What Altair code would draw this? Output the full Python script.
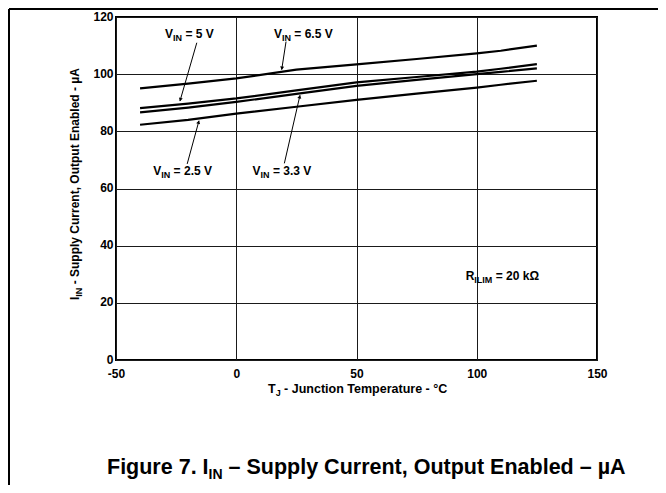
import math
import altair as alt
import pandas as pd

# ---------------- data ----------------
temps = [-40, -20, 0, 25, 50, 75, 100, 110, 125]
i_vin_65 = [95.0, 96.7, 98.5, 101.6, 103.4, 105.3, 107.3, 108.2, 110.0]
i_vin_5 = [88.1, 89.7, 91.5, 94.3, 97.1, 99.0, 100.9, 101.9, 103.5]
i_vin_33 = [86.6, 88.3, 90.3, 93.1, 95.9, 98.0, 100.0, 100.8, 102.0]
i_vin_25 = [82.3, 84.0, 86.2, 88.6, 91.0, 93.2, 95.3, 96.3, 97.7]
series_names = ["6.5 V", "5 V", "3.3 V", "2.5 V"]
series_values = [i_vin_65, i_vin_5, i_vin_33, i_vin_25]

x_ticks = [-50, 0, 50, 100, 150]
y_ticks = [0, 20, 40, 60, 80, 100, 120]

# annotation labels: (anchor T, anchor I, lead, subscript, rest)
label_T = [-29.6, 15.7, -34.5, 6.8, 95.4]
label_I = [112.8, 112.8, 64.8, 64.8, 28.0]
label_lead = ["V", "V", "V", "V", "R"]
label_sub = ["IN", "IN", "IN", "IN", "ILIM"]
label_rest = ["= 5 V", "= 6.5 V", "= 2.5 V", "= 3.3 V", "= 20 kΩ"]

# arrows: from label (T, I) to curve tip (T2, I2)
arrow_T = [-16.4, 20.7, -20.4, 20.0]
arrow_I = [111.0, 111.4, 68.6, 68.8]
arrow_T2 = [-23.4, 18.9, -15.5, 26.5]
arrow_I2 = [90.6, 101.6, 83.7, 92.6]

# ---------------- layout / style ----------------
W, H = 481, 343
PAD = {"left": 108, "top": 9, "right": 61, "bottom": 125}
FONT = "Liberation Sans"
PX_T = W / 200.0
PX_I = H / 120.0

# Arial/Liberation Sans Bold advance widths (per 1000 em)
ADV = {" ": 278, ".": 278, "7": 556, "F": 611, "I": 278, "J": 556, "L": 611,
       "M": 833, "N": 722, "R": 722, "T": 611, "V": 667, "e": 556, "g": 611,
       "i": 278, "r": 389, "u": 611}


def tw(s, size):
    return sum(ADV.get(c, 556) for c in s) * size / 1000.0


rows = []
for name, vals in zip(series_names, series_values):
    for t, v in zip(temps, vals):
        rows.append({"T": t, "I": v, "V": name})
df = pd.DataFrame(rows)

xs = alt.Scale(domain=[-50, 150], nice=False, zero=False)
ys = alt.Scale(domain=[0, 120], nice=False, zero=False)

x_axis = alt.Axis(values=x_ticks, title=None, grid=True, gridColor="#1a1a1a",
                  gridWidth=1, domain=False, ticks=False, labelFont=FONT,
                  labelFontSize=12, labelFontWeight="bold", labelColor="black",
                  labelPadding=8, labelFlush=False, labelOverlap=False,
                  labelBound=False, labelExpr="'' + datum.value")
y_axis = alt.Axis(values=y_ticks, title=None, grid=True, gridColor="#1a1a1a",
                  gridWidth=1, domain=False, ticks=False, labelFont=FONT,
                  labelFontSize=12, labelFontWeight="bold", labelColor="black",
                  labelPadding=3, labelOffset=-1, labelFlush=False,
                  labelOverlap=False, labelBound=False,
                  labelExpr="'' + datum.value")


def X(field="T"):
    return alt.X(f"{field}:Q", scale=xs, axis=x_axis)


def Y(field="I"):
    return alt.Y(f"{field}:Q", scale=ys, axis=y_axis)


lines = alt.Chart(df).mark_line(color="black", strokeWidth=2.2).encode(
    x=X(), y=Y(), detail="V:N",
)

layers = [lines]


def data_text(t, v, txt, size, dx, dy):
    d = pd.DataFrame({"T": [t], "I": [v], "s": [txt]})
    return alt.Chart(d).mark_text(
        align="left", baseline="alphabetic", font=FONT, fontWeight="bold",
        fontSize=size, dx=dx, dy=dy, color="black"
    ).encode(x=X(), y=Y(), text="s:N")


def px_text(px, py, txt, size, angle=0):
    d = pd.DataFrame({"s": [txt]})
    kw = dict(align="left", baseline="alphabetic", font=FONT, fontWeight="bold",
              fontSize=size, color="black")
    if angle:
        kw["angle"] = angle
    return alt.Chart(d).mark_text(**kw).encode(
        x=alt.value(px), y=alt.value(py), text="s:N")


# in-plot labels with subscripts
MAIN, SUB = 12, 9
for t, v, lead, sub, rest in zip(label_T, label_I, label_lead, label_sub, label_rest):
    w1 = tw(lead, MAIN)
    w2 = tw(sub, SUB)
    layers.append(data_text(t, v, lead, MAIN, 0, 0))
    layers.append(data_text(t, v, sub, SUB, w1, 3))
    layers.append(data_text(t, v, rest, MAIN, w1 + w2 + tw(" ", MAIN), 0))

# arrows
arr = pd.DataFrame({"T": arrow_T, "I": arrow_I, "T2": arrow_T2, "I2": arrow_I2})
layers.append(alt.Chart(arr).mark_rule(color="black", strokeWidth=1).encode(
    x=X(), y=Y(), x2="T2:Q", y2="I2:Q"))

heads = []
for t1, v1, t2, v2 in zip(arrow_T, arrow_I, arrow_T2, arrow_I2):
    dxp = (t2 - t1) * PX_T
    dyp = -(v2 - v1) * PX_I
    L = math.hypot(dxp, dyp)
    ux, uy = dxp / L, dyp / L
    back = 2.0
    heads.append({"T": t2 - ux * back / PX_T, "I": v2 + uy * back / PX_I,
                  "ang": math.degrees(math.atan2(dxp, -dyp)) % 360})
layers.append(alt.Chart(pd.DataFrame(heads)).mark_point(
    shape="triangle", filled=True, size=16, color="black", opacity=1
).encode(x=X(), y=Y(), angle=alt.Angle("ang:Q", scale=None)))

# x axis title: T_J - Junction Temperature - °C
XT = 12.5
x0, yb = 268 - 116, 393 - 17
layers.append(px_text(x0, yb, "T", XT))
layers.append(px_text(x0 + tw("T", XT), yb + 3, "J", 9))
layers.append(px_text(x0 + tw("T", XT) + tw("J", 9) + tw(" ", XT), yb,
                      "- Junction Temperature - °C", XT))

# y axis title (rotated): I_IN - Supply Current, Output Enabled - µA
YT = 12
xb, y0 = 78.5 - 116, 300 - 17
layers.append(px_text(xb, y0, "I", YT, 270))
layers.append(px_text(xb + 3, y0 - tw("I", YT), "IN", 9, 270))
layers.append(px_text(xb, y0 - tw("I", YT) - tw("IN", 9) - tw(" ", YT),
                      "- Supply Current, Output Enabled - µA", YT, 270))

# caption
CT, CS = 21.5, 14
cx, cy = 107 - 116, 474 - 17
layers.append(px_text(cx, cy, "Figure 7. I", CT))
layers.append(px_text(cx + tw("Figure 7. I", CT), cy + 5, "IN", CS))
layers.append(px_text(cx + tw("Figure 7. I", CT) + tw("IN", CS) + tw(" ", CT), cy,
                      "– Supply Current, Output Enabled – µA", CT))

# outer frame (top and left edges)
frame_df = pd.DataFrame({"k": [0]})
layers.append(alt.Chart(frame_df).mark_rule(color="black", strokeWidth=2).encode(
    x=alt.value(-PAD["left"] + 1), x2=alt.value(W + PAD["right"]),
    y=alt.value(-PAD["top"] + 1)))
layers.append(alt.Chart(frame_df).mark_rule(color="black", strokeWidth=2).encode(
    x=alt.value(-PAD["left"] + 1), y=alt.value(-PAD["top"] + 1),
    y2=alt.value(H + PAD["bottom"])))

chart = alt.layer(*layers).properties(
    width=W, height=H,
    autosize=alt.AutoSizeParams(type="none"),
    padding=PAD,
    background="white",
).configure_view(stroke="black", strokeWidth=2)

chart.save("out.html", embed_options={"renderer": "svg", "actions": False})
